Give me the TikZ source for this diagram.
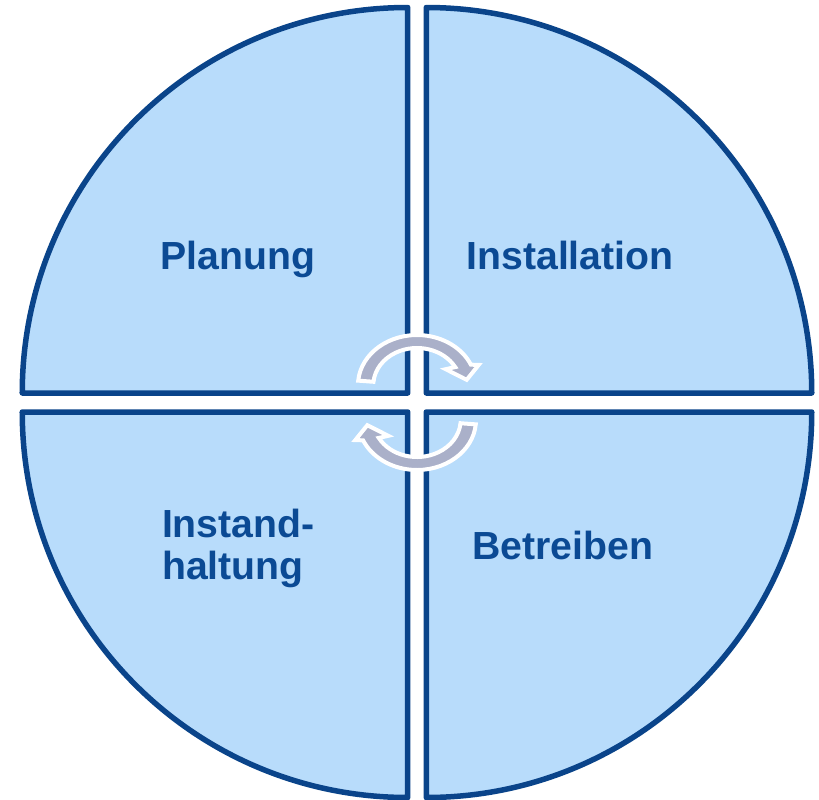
\documentclass[tikz,border=0pt]{standalone}
\usepackage{fontspec}
\setmainfont{Liberation Sans}
\definecolor{quarterfill}{HTML}{B8DCFB}
\definecolor{quarterline}{HTML}{0A448A}
\definecolor{labeltext}{HTML}{0B4A94}
\definecolor{cyclegray}{HTML}{AAB0C9}
\begin{document}
\begin{tikzpicture}[x=0.5pt, y=0.5pt, line join=round,
	quarter/.style={fill=quarterfill, draw=quarterline, line width=2.75pt},
	phase/.style={text=labeltext, inner sep=0pt, font=\bfseries\fontsize{19.6}{21}\selectfont},
	cyclearrow/.style={fill=cyclegray, draw=white, line width=2pt, line join=miter}]
	\useasboundingbox (-417,-396.5) rectangle (402,402.5);
	\def\R{385.5} % Radius der Viertelkreise
	\def\dx{9.25}
	\def\dy{9.5}
	\coordinate (O) at (0,0);
	% vier Viertelkreise
	\foreach \sx/\sy/\a in {-1/1/90, 1/1/0, 1/-1/270, -1/-1/180} {
		\draw[quarter] (\sx*\dx,\sy*\dy) -- ++(\a:\R) arc[start angle=\a, delta angle=90, radius=\R] -- cycle;
	}
	% Kreislauf-Pfeile
	\foreach \rot in {0,180} {
		\begin{scope}[rotate around={\rot:(O)}, shift={(0,17.5)}, xscale=1.18]
			\draw[cyclearrow] (175:50) arc[start angle=175, end angle=24, radius=50]
				-- (21:56) -- (7:42.4) -- (33:29) -- (29:37)
				arc[start angle=29, end angle=175, radius=37] -- cycle;
		\end{scope}
	}
	\node[phase, anchor=base] (planung) at (-179,133.5) {Planung};
	\node[phase, anchor=base] (installation) at (153,133.5) {Installation};
	\node[phase, anchor=base west, align=left] (instandhaltung) at (-255.3,-176.8) {Instand-\\haltung};
	\node[phase, anchor=base] (betreiben) at (146,-156.8) {Betreiben};
\end{tikzpicture}
\end{document}
